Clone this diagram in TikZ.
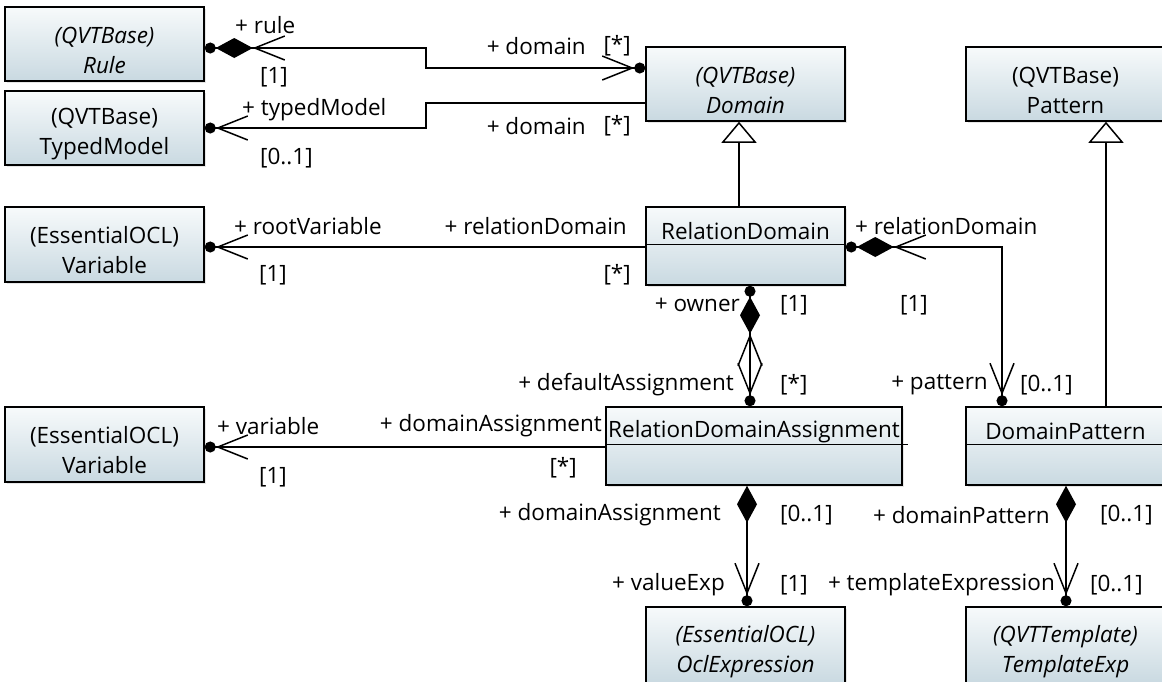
\documentclass[tikz,border=0pt]{standalone}
\usepackage{fontspec}
\setmainfont{Open Sans}
\usetikzlibrary{arrows.meta, shadows}
\definecolor{clstop}{HTML}{F7FAFB}
\definecolor{clsbot}{HTML}{C9D9E1}
\tikzset{ c/.style = { rectangle
                     , draw         = black
                     , line width   = 1.5pt
                     , top color    = clstop
                     , bottom color = clsbot
                     , drop shadow  = {shadow xshift=1.5pt, shadow yshift=-1.5pt, opacity=0.2}
                     , inner sep    = 0pt
                     , minimum width  = 199pt
                     , minimum height = 74pt
                     },
          nm/.style = { align    = center
                      , yshift   = -6pt
                      , font     = \fontsize{22.5}{30}\selectfont
                      },
          ab/.style = { nm
                      , font = \fontsize{22.5}{30}\selectfont\itshape
                      },
          l/.style = { inner sep = 0pt
                     , font      = \fontsize{22.5}{26}\selectfont
                     },
          a/.style = { line width = 1.5pt },
          own/.tip  = {Circle[length=11pt]},
          cdia/.tip = {Diamond[length=37pt, width=20pt]},
          navi/.tip = {Straight Barb[length=30pt, width=24pt]},
          gtri/.tip = {Triangle[open, length=21pt, width=35pt, fill=white]}
        }
\begin{document}
\begin{tikzpicture}[x=1pt, y=-1pt]
\useasboundingbox (0,0) rectangle (1162,681);
\clip (0,0) rectangle (1162,681);

% classes
\node[c, label={[ab]center:{(QVTBase)\\Rule}}]  (rule)  at (104.5,44)    {};
\node[c, label={[nm]center:{(QVTBase)\\TypedModel}}] (typed) at (104.5,128) {};
\node[c, minimum height=75pt, label={[nm]center:{(EssentialOCL)\\Variable}}] (var1) at (104.5,244.5) {};
\node[c, minimum height=75pt, label={[nm]center:{(EssentialOCL)\\Variable}}] (var2) at (104.5,444.5) {};
\node[c, label={[ab]center:{(QVTBase)\\Domain}}]  (domain)  at (745.5,84)  {};
\node[c, label={[nm]center:{(QVTBase)\\Pattern}}] (pattern) at (1065.5,84) {};
\node[c, minimum height=78pt] (reldom) at (745.5,246)  {};
\node[c, minimum height=78pt, minimum width=296pt] (rda) at (754,446) {};
\node[c, minimum height=78pt] (dompat) at (1065.5,446) {};
\node[c, minimum height=77pt, label={[ab]center:{(EssentialOCL)\\OclExpression}}] (ocl)  at (745.5,645.5)  {};
\node[c, minimum height=77pt, label={[ab]center:{(QVTTemplate)\\TemplateExp}}]  (tmpl) at (1065.5,645.5) {};

% compartments
\node[l] (reldom-n) at ([yshift=-25pt]reldom.north) {RelationDomain};
\node[l] (rda-n)    at ([yshift=-25pt]rda.north)    {RelationDomainAssignment};
\node[l] (dompat-n) at ([yshift=-25pt]dompat.north) {DomainPattern};
\draw[a] ([yshift=-38pt]reldom.north west) -- ([yshift=-38pt]reldom.north east);
\draw[a] ([yshift=-38pt]rda.north west) -- ([yshift=-38pt, xshift=5pt]rda.north east);
\draw[a] ([yshift=-38pt]dompat.north west) -- ([yshift=-38pt]dompat.north east);

% generalizations
\draw[a, -{gtri[]}] ([xshift=-6.5pt]reldom.north) -- ([xshift=-6.5pt]domain.south);
\draw[a, -{gtri[]}] ([xshift=40.5pt]dompat.north) -- ([xshift=40.5pt]pattern.south);

% associations
\draw[a, {own[] cdia[] navi[]}-{navi[] own[]}] ([yshift=-4pt]rule.east) -| (426,58) |- ([yshift=16pt]domain.west);
\draw[a, -{navi[] own[]}] ([yshift=-19pt]domain.west) -| (426,110) |- (typed.east);
\draw[a, -{navi[] own[]}] ([yshift=-1pt]reldom.west) -- ([yshift=-1pt]reldom.west -| var1.east);
\draw[a, {own[] cdia[] navi[]}-{navi[] own[]}] ([yshift=-1pt]reldom.east) -| ([xshift=-63.5pt]dompat.north);
\draw[a, {own[] cdia[] navi[]}-{navi[] own[]}] ([xshift=4.5pt]reldom.south) -- ([xshift=4.5pt]reldom.south |- rda.north);
\draw[a, -{navi[] own[]}] ([yshift=-1pt]rda.west) -- ([yshift=-1pt]rda.west -| var2.east);
\draw[a, {cdia[]}-{navi[] own[]}] ([xshift=-7pt]rda.south) -- ([xshift=-7pt]rda.south |- ocl.north);
\draw[a, {cdia[]}-{navi[] own[]}] ([xshift=0.5pt]dompat.south) -- ([xshift=0.5pt]dompat.south |- tmpl.north);

% role names and multiplicities
\node[l, anchor=west] (r1)  at (235,25)   {+ rule};
\node[l, anchor=west] (m1)  at (260,77)   {[1]};
\node[l, anchor=east] (r2)  at (586,46)   {+ domain};
\node[l, anchor=east] (m2)  at (631,46)   {[*]};
\node[l, anchor=west] (r3)  at (242,110)  {+ typedModel};
\node[l, anchor=west] (m3)  at (260,158)  {[0..1]};
\node[l, anchor=east] (r4)  at (586,126)  {+ domain};
\node[l, anchor=east] (m4)  at (631,126)  {[*]};
\node[l, anchor=west] (r5)  at (234,226)  {+ rootVariable};
\node[l, anchor=west] (m5)  at (259,275)  {[1]};
\node[l, anchor=east] (r6)  at (627,226)  {+ relationDomain};
\node[l, anchor=east] (m6)  at (631,275)  {[*]};
\node[l, anchor=west] (r7)  at (855,226)  {+ relationDomain};
\node[l, anchor=west] (m7)  at (900,305)  {[1]};
\node[l, anchor=east] (r8)  at (740,305)  {+ owner};
\node[l, anchor=west] (m8)  at (780,305)  {[1]};
\node[l, anchor=east] (r9)  at (734,385)  {+ defaultAssignment};
\node[l, anchor=west] (m9)  at (780,385)  {[*]};
\node[l, anchor=east] (r10) at (988,385)  {+ pattern};
\node[l, anchor=west] (m10) at (1020,385) {[0..1]};
\node[l, anchor=west] (r11) at (217,426)  {+ variable};
\node[l, anchor=west] (m11) at (259,477)  {[1]};
\node[l, anchor=east] (r12) at (602,426)  {+ domainAssignment};
\node[l, anchor=east] (m12) at (577,468)  {[*]};
\node[l, anchor=east] (r13) at (721,515)  {+ domainAssignment};
\node[l, anchor=west] (m13) at (780,515)  {[0..1]};
\node[l, anchor=east] (r14) at (725,585)  {+ valueExp};
\node[l, anchor=west] (m14) at (780,585)  {[1]};
\node[l, anchor=east] (r15) at (1050,515) {+ domainPattern};
\node[l, anchor=west] (m15) at (1100,515) {[0..1]};
\node[l, anchor=east] (r16) at (1055,585) {+ templateExpression};
\node[l, anchor=west] (m16) at (1090,585) {[0..1]};
\end{tikzpicture}
\end{document}
